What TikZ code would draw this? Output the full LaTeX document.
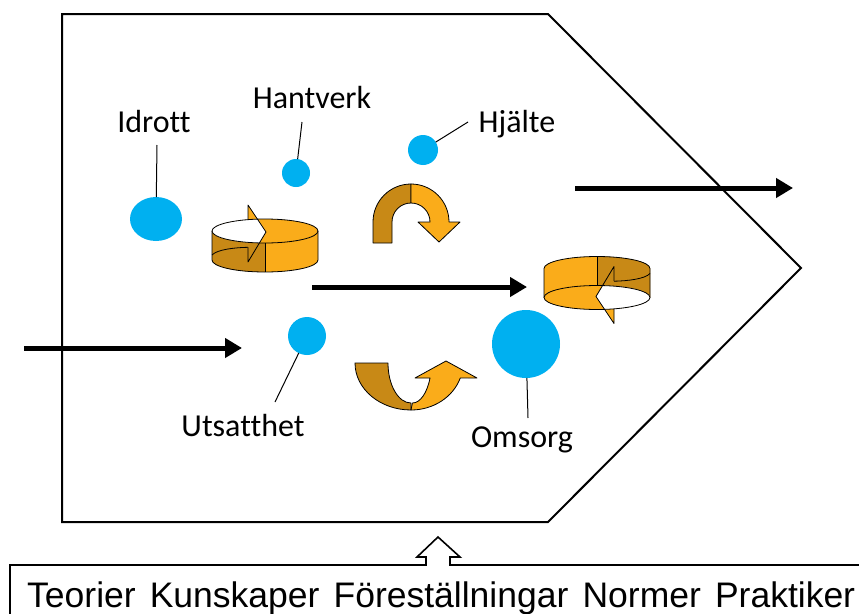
\documentclass[tikz,border=0pt]{standalone}
\usepackage{fontspec}
\setmainfont{Carlito}[Ligatures=NoCommon]
\newfontfamily\arialfont{Liberation Sans}
\usetikzlibrary{arrows.meta,shapes.geometric}
\definecolor{lightor}{RGB}{250,172,26}
\definecolor{darkor}{RGB}{200,137,22}
\definecolor{ballcol}{RGB}{0,176,240}
\tikzset{
  thinl/.style={line width=0.8pt, line join=round},
  ball/.style={circle, fill=ballcol, draw=none, inner sep=0pt, outer sep=0pt},
  lbl/.style={font=\fontsize{32}{38}\selectfont, anchor=base, inner sep=0pt},
  leader/.style={line width=1pt},
  bigarrow/.style={line width=5pt, -{Triangle[length=17pt,width=19pt]}},
  cylarrow/.pic={
    \fill[lightor] (-17,-40.5) -- (1,-13.5) -- (-17,16.5) -- cycle;
    \fill[lightor] (-53,-14.5) -- (-53,14.5) arc[start angle=180,end angle=0,x radius=53,y radius=12] -- (53,-14.5) arc[start angle=0,end angle=180,x radius=53,y radius=12] -- cycle;
    \fill[darkor] (-53,-14.5) -- (-53,14.5) arc[start angle=180,end angle=90,x radius=53,y radius=12] -- (0,-2.5) arc[start angle=90,end angle=180,x radius=53,y radius=12] -- cycle;
    \draw[thinl] (-53,-14.5) -- (-53,14.5) arc[start angle=180,end angle=0,x radius=53,y radius=12] -- (53,-14.5);
    \draw[thinl] (0,-2.5) -- (0,26.5);
    \fill[lightor] (0,-14.5) ellipse[x radius=53, y radius=12];
    \begin{scope}
      \clip (0,-14.5) ellipse[x radius=53, y radius=12];
      \fill[white] (-60,-45) -- (-17,-45) -- (-17,-40.5) -- (1,-13.5) -- (-17,16.5) -- (-60,16.5) -- cycle;
    \end{scope}
    \draw[thinl] (0,-14.5) ellipse[x radius=53, y radius=12];
    \draw[thinl] (-17,-25.9) -- (-17,-40.5) -- (1,-13.5) -- (-17,16.5) -- (-17,1.8);
    \draw[thinl] (-53,9.5) .. controls (-48,4) and (-30,2) .. (-17,1.8);
  }
}
\begin{document}
\begin{tikzpicture}[x=1pt,y=-1pt]
\useasboundingbox (0,0) rectangle (859,613);
\clip (0,0) rectangle (859,613);
\fill[white] (0,0) rectangle (859,613);

% pentagon frame
\draw[line width=2pt, line join=miter] (62,14) -- (548,14) -- (801,268) -- (548,522) -- (62,522) -- cycle;

% bottom box with hollow arrow
\draw[line width=1.6pt, line join=miter] (10,630) -- (10,565) -- (426,565) -- (426,557) -- (417,557) -- (438,537) -- (460,557) -- (450,557) -- (450,565) -- (880,565);
\node[anchor=base west, inner sep=0pt] (bottomtext) at (27,607)
  {\arialfont\fontsize{35.5}{42}\selectfont\makebox[828pt][s]{Teorier Kunskaper Föreställningar Normer Praktiker}};

% straight arrows
\coordinate (a1s) at (24,348);  \coordinate (a1e) at (242,348);
\coordinate (a2s) at (312,287); \coordinate (a2e) at (527,287);
\coordinate (a3s) at (575,188); \coordinate (a3e) at (793,188);
\draw[bigarrow] (a1s) -- (a1e);
\draw[bigarrow] (a2s) -- (a2e);
\draw[bigarrow] (a3s) -- (a3e);

% balls
\node[ball, ellipse, minimum width=52pt, minimum height=44pt] (cIdrott) at (156,219) {};
\node[ball, minimum size=28pt] (cHantverk) at (296,173) {};
\node[ball, minimum size=30pt] (cHjalte) at (423,150) {};
\node[ball, minimum size=38pt] (cUtsatthet) at (307,336) {};
\node[ball, minimum size=68pt] (cOmsorg) at (526,344) {};

% labels
\node[lbl] (lIdrott) at (154,132) {Idrott};
\node[lbl] (lHantverk) at (312,108) {Hantverk};
\node[lbl] (lHjalte) at (517,132) {Hjälte};
\node[lbl] (lUtsatthet) at (243,436) {Utsatthet};
\node[lbl] (lOmsorg) at (522,447) {Omsorg};

% leader lines
\coordinate (eIdrott) at (157,145);
\coordinate (eHantverk) at (302,122);
\coordinate (eHjalte) at (468,122);
\coordinate (eUtsatthet) at (275,402);
\coordinate (eOmsorg) at (528,418);
\draw[leader] (eIdrott) -- (cIdrott);
\draw[leader] (eHantverk) -- (cHantverk);
\draw[leader] (eHjalte) -- (cHjalte);
\draw[leader] (eUtsatthet) -- (cUtsatthet);
\draw[leader] (eOmsorg) -- (cOmsorg);

% 3D circular arrows
\pic at (265,245.5) {cylarrow};
\pic[rotate=180] at (597,283) {cylarrow};

% upper U-turn arrow
\filldraw[fill=darkor, draw=black, thinl] (373,243) -- (373,222) arc[start angle=180,end angle=270,radius=38] -- (411,203) arc[start angle=270,end angle=180,radius=19] -- (392,243) -- cycle;
\filldraw[fill=lightor, draw=black, thinl] (411,184) arc[start angle=270,end angle=360,radius=38] -- (460,222) -- (439,242) -- (418,222) -- (430,222) arc[start angle=360,end angle=270,radius=19] -- cycle;

% lower U-turn arrow
\filldraw[fill=darkor, draw=black, thinl] (355,363) arc[start angle=180,end angle=90,x radius=56,y radius=47] -- (411,403) arc[start angle=90,end angle=180,x radius=23,y radius=40] -- cycle;
\filldraw[fill=lightor, draw=black, thinl] (411,410) arc[start angle=90,end angle=18.6,x radius=52,y radius=47] -- (477,378) -- (446,361) -- (415,378) -- (430,378) arc[start angle=22,end angle=90,x radius=19,y radius=40] -- cycle;
\end{tikzpicture}
\end{document}
